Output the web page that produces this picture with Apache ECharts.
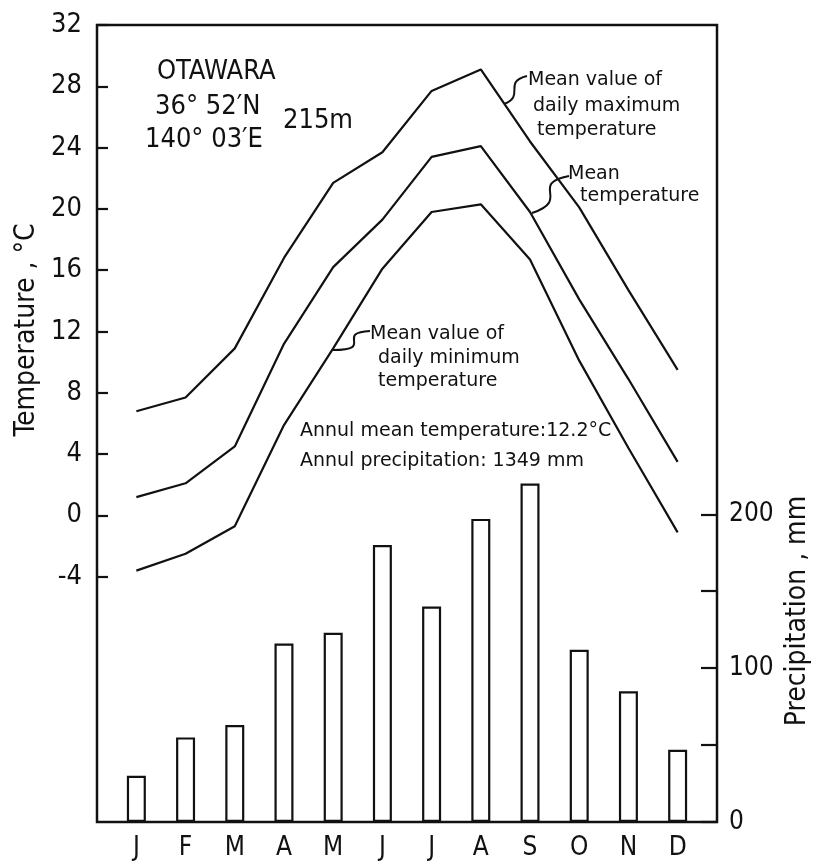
<!DOCTYPE html>
<html>
<head>
<meta charset="utf-8">
<script src="https://cdn.jsdelivr.net/npm/echarts@6/dist/echarts.min.js"></script>
<style>
html,body{margin:0;padding:0;background:#fff;}
#chart{width:815px;height:863px;}
</style>
</head>
<body>
<div id="chart"></div>
<script>
// ---- data ----
const months = ['J','F','M','A','M','J','J','A','S','O','N','D'];
const tempMax  = [6.8, 7.7, 10.9, 16.8, 21.7, 23.7, 27.7, 29.1, 24.4, 20.1, 14.7, 9.5];
const tempMean = [1.2, 2.1, 4.5, 11.2, 16.2, 19.3, 23.4, 24.1, 19.8, 14.1, 8.9, 3.5];
const tempMin  = [-3.6, -2.5, -0.7, 5.9, 10.9, 16.1, 19.8, 20.3, 16.7, 10.1, 4.4, -1.1];
const precip   = [30, 55, 63, 116, 123, 180, 140, 197, 220, 112, 85, 47];
const tempTicks = [-4, 0, 4, 8, 12, 16, 20, 24, 28, 32];
const precipTicks = [0, 50, 100, 150, 200];
const precipLabels = [0, 100, 200];

const monthIdx = months.map((m, i) => i);
const pairs = arr => arr.map((v, i) => [monthIdx[i], v]);

const tickFont = '"Liberation Sans Narrow", "DejaVu Sans Condensed", sans-serif';
const noteFont = '"DejaVu Sans", sans-serif';

const chart = echarts.init(document.getElementById('chart'), null, {renderer: 'canvas'});

const lineStyle = {color: '#111', width: 2.2};

const option = {
  backgroundColor: '#fff',
  animation: false,
  grid: {left: 97, right: 98, top: 25, bottom: 41, show: true, borderColor: '#111', borderWidth: 2.5, backgroundColor: 'transparent'},
  xAxis: {
    type: 'value', min: -0.8, max: 11.8,
    axisLine: {show: false, onZero: false}, axisTick: {show: false}, splitLine: {show: false},
    axisLabel: {customValues: monthIdx, formatter: v => months[Math.round(v)], fontFamily: tickFont, fontSize: 26, color: '#111', margin: 13}
  },
  yAxis: [
    {
      type: 'value', min: -20, max: 32, interval: 4, position: 'left',
      axisLine: {show: false, onZero: false}, splitLine: {show: false},
      axisTick: {show: true, inside: true, length: 11, customValues: tempTicks, lineStyle: {color: '#111', width: 2.2}},
      axisLabel: {customValues: tempTicks, fontFamily: tickFont, fontSize: 27, color: '#111', margin: 15}
    },
    {
      type: 'value', min: 0, max: 518, position: 'right',
      axisLine: {show: false, onZero: false}, splitLine: {show: false},
      axisTick: {show: true, inside: true, length: 16, customValues: precipTicks, lineStyle: {color: '#111', width: 2.2}},
      axisLabel: {customValues: precipLabels, fontFamily: tickFont, fontSize: 26, color: '#111', margin: 12}
    }
  ],
  series: [
    {type: 'bar', yAxisIndex: 1, data: pairs(precip), barWidth: 19,
     itemStyle: {color: '#fff', borderColor: '#111', borderWidth: 2.2}, z: 2},
    {type: 'line', yAxisIndex: 0, data: pairs(tempMax), showSymbol: false, lineStyle: lineStyle, z: 3},
    {type: 'line', yAxisIndex: 0, data: pairs(tempMean), showSymbol: false, lineStyle: lineStyle, z: 3},
    {type: 'line', yAxisIndex: 0, data: pairs(tempMin), showSymbol: false, lineStyle: lineStyle, z: 3}
  ],
  graphic: [
    // axis titles
    {type: 'text', x: 27, y: 330, rotation: Math.PI / 2,
     style: {text: 'Temperature , °C', font: '28px ' + tickFont, fill: '#111', textAlign: 'center', textVerticalAlign: 'middle'}},
    {type: 'text', x: 798, y: 611, rotation: Math.PI / 2,
     style: {text: 'Precipitation , mm', font: '28px ' + tickFont, fill: '#111', textAlign: 'center', textVerticalAlign: 'middle'}},
    // station info
    {type: 'text', x: 157, y: 72, style: {text: 'OTAWARA', font: '27px ' + tickFont, fill: '#111', textVerticalAlign: 'middle'}},
    {type: 'text', x: 155, y: 107, style: {text: '36° 52′N', font: '27px ' + tickFont, fill: '#111', textVerticalAlign: 'middle'}},
    {type: 'text', x: 283, y: 121, style: {text: '215m', font: '27px ' + tickFont, fill: '#111', textVerticalAlign: 'middle'}},
    {type: 'text', x: 145, y: 140, style: {text: '140° 03′E', font: '27px ' + tickFont, fill: '#111', textVerticalAlign: 'middle'}},
    // annotations
    {type: 'text', x: 528, y: 80, style: {text: 'Mean value of', font: '19px ' + noteFont, fill: '#111', textVerticalAlign: 'middle'}},
    {type: 'text', x: 533, y: 106, style: {text: 'daily maximum', font: '19px ' + noteFont, fill: '#111', textVerticalAlign: 'middle'}},
    {type: 'text', x: 537, y: 130, style: {text: 'temperature', font: '19px ' + noteFont, fill: '#111', textVerticalAlign: 'middle'}},
    {type: 'text', x: 568, y: 174, style: {text: 'Mean', font: '19px ' + noteFont, fill: '#111', textVerticalAlign: 'middle'}},
    {type: 'text', x: 580, y: 196, style: {text: 'temperature', font: '19px ' + noteFont, fill: '#111', textVerticalAlign: 'middle'}},
    {type: 'text', x: 370, y: 334, style: {text: 'Mean value of', font: '19px ' + noteFont, fill: '#111', textVerticalAlign: 'middle'}},
    {type: 'text', x: 378, y: 358, style: {text: 'daily minimum', font: '19px ' + noteFont, fill: '#111', textVerticalAlign: 'middle'}},
    {type: 'text', x: 378, y: 381, style: {text: 'temperature', font: '19px ' + noteFont, fill: '#111', textVerticalAlign: 'middle'}},
    {type: 'text', x: 300, y: 431, style: {text: 'Annul mean temperature:12.2°C', font: '19px ' + noteFont, fill: '#111', textVerticalAlign: 'middle'}},
    {type: 'text', x: 300, y: 461, style: {text: 'Annul precipitation: 1349 mm', font: '19px ' + noteFont, fill: '#111', textVerticalAlign: 'middle'}},
    // leader squiggles
    {type: 'bezierCurve', shape: {x1: 504, y1: 104, cpx1: 526, cpy1: 96, cpx2: 502, cpy2: 82, x2: 527, y2: 76},
     style: {stroke: '#111', lineWidth: 2, fill: null}},
    {type: 'bezierCurve', shape: {x1: 532, y1: 213, cpx1: 572, cpy1: 200, cpx2: 528, cpy2: 184, x2: 569, y2: 176},
     style: {stroke: '#111', lineWidth: 2, fill: null}},
    {type: 'bezierCurve', shape: {x1: 333, y1: 350, cpx1: 376, cpy1: 350, cpx2: 334, cpy2: 333, x2: 370, y2: 331},
     style: {stroke: '#111', lineWidth: 2, fill: null}}
  ]
};
chart.setOption(option);
</script>
</body>
</html>
